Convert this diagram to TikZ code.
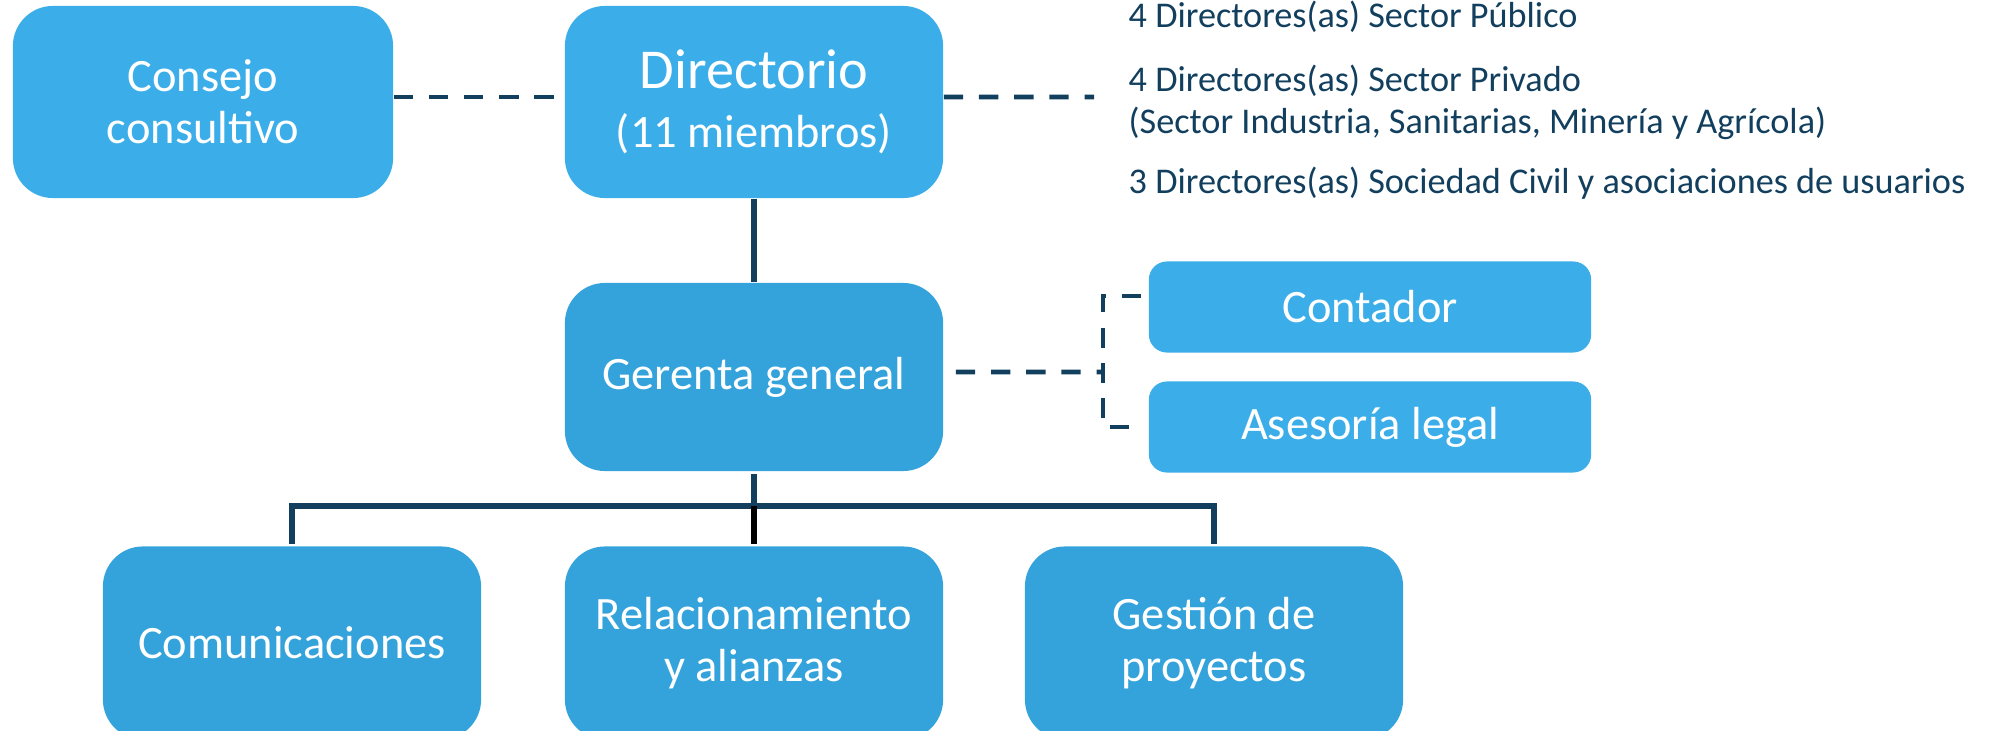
\documentclass[tikz,border=0pt]{standalone}
\usepackage{fontspec}
\setmainfont{Carlito}
\usepackage{xcolor}
\usepackage{tikz}

\definecolor{cajaclara}{HTML}{3BAEE9}
\definecolor{cajaoscura}{HTML}{34A3DB}
\definecolor{azullinea}{HTML}{123F5E}

\begin{document}
\begin{tikzpicture}[x=0.01cm,y=-0.01cm,
    caja/.style={text=white,align=center,inner sep=0pt,font=\fontsize{13.2}{14.8}\selectfont},
    grande/.style={caja,rounded corners=0.4cm,minimum width=3.78cm,minimum height=1.92cm},
    chica/.style={caja,rounded corners=0.18cm,minimum width=4.42cm,minimum height=0.91cm},
    linea/.style={draw=azullinea,line width=1.6pt},
    guiones/.style={draw=azullinea,line width=1.3pt,dash pattern=on 5.5pt off 4.5pt},
    lista/.style={anchor=base west,text=azullinea,inner sep=0pt,font=\fontsize{10.3}{11.9}\selectfont}]
    \useasboundingbox (0,0) rectangle (1995,731);

    \node[grande,fill=cajaclara,minimum width=3.8cm] (consejo) at (203,102) {Consejo\\consultivo};
    \node[grande,fill=cajaclara,font=\fontsize{13.2}{16.6}\selectfont] (directorio) at (754,102) {{\fontsize{16}{16.6}\selectfont Directorio}\\(11 miembros)};
    \node[grande,fill=cajaoscura,minimum height=1.88cm] (gerenta) at (754,377) {Gerenta general};
    \node[chica,fill=cajaclara] (contador) at (1370,307) {Contador};
    \node[chica,fill=cajaclara] (asesoria) at (1370,427) {Asesoría legal};

    \node[grande,fill=cajaoscura,minimum height=1.93cm] (comunicaciones) at (292,643) {Comunicaciones};
    \node[grande,fill=cajaoscura,minimum height=1.93cm] (relacionamiento) at (754,643) {Relacionamiento\\y alianzas};
    \node[grande,fill=cajaoscura,minimum height=1.93cm] (gestion) at (1214,643) {Gestión de\\proyectos};

    \node[lista] (publico) at (1128,28) {4 Directores(as) Sector Público};
    \node[lista] (privado) at (1128,92) {4 Directores(as) Sector Privado};
    \node[lista] (sectores) at (1128,134) {(Sector Industria, Sanitarias, Minería y Agrícola)};
    \node[lista] (civil) at (1128,194) {3 Directores(as) Sociedad Civil y asociaciones de usuarios};

    \coordinate (dirfin) at (1094,97);
    \coordinate (ramal) at (1103,372);
    \coordinate (bus) at (754,506);

    \draw[guiones] ([yshift=0.05cm]consejo.east) -- ([yshift=0.05cm]directorio.west);
    \draw[guiones] ([yshift=0.05cm]directorio.east) -- (dirfin);
    \draw[guiones] ([xshift=0.12cm,yshift=0.05cm]gerenta.east) -- (ramal);
    \draw[guiones] ([xshift=-0.07cm,yshift=0.11cm]contador.west) -| (ramal) |- ([xshift=-0.07cm]asesoria.west);

    \draw[linea] (directorio) -- (gerenta);
    \draw[linea] ([yshift=-0.02cm]gerenta.south) -- (bus);
    \draw[linea] ([yshift=0.02cm]comunicaciones.north) |- (bus) -| ([yshift=0.02cm]gestion.north);
    \draw[black,line width=1.6pt] (bus) -- ([yshift=0.02cm]relacionamiento.north);
\end{tikzpicture}
\end{document}
